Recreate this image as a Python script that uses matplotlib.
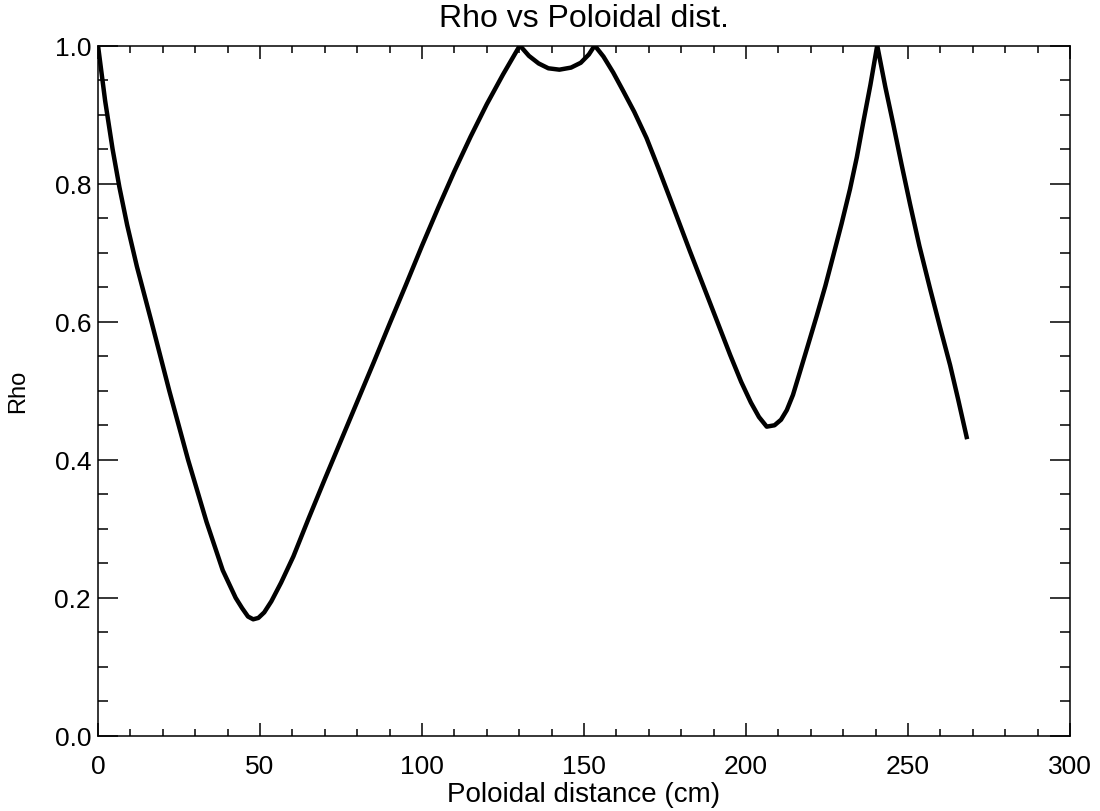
import matplotlib
matplotlib.use('Agg')
import matplotlib.pyplot as plt
from matplotlib.ticker import MultipleLocator

dist = [0.0, 2.2, 4.5, 6.6, 9.0, 12.0, 16.5, 22.0, 27.8, 33.5, 38.5, 42.5,
        44.5, 46.3, 47.9, 49.5, 51.3, 53.5, 56.5, 60.3, 65.0, 70.0, 75.0,
        80.0, 85.0, 90.0, 95.0, 100.0, 105.0, 110.0, 115.0, 120.0, 125.0,
        130.2, 133.0, 136.0, 139.0, 142.4, 146.0, 149.0, 151.5, 153.3, 156.0,
        159.0, 162.0, 165.5, 169.3, 173.0, 176.5, 182.7, 189.9, 195.1, 198.5,
        201.5, 204.0, 206.4, 208.8, 210.8, 212.6, 214.5, 216.5, 219.0, 221.8,
        224.5, 226.9, 229.5, 232.1, 234.2, 236.2, 238.4, 240.5, 243.0, 245.5,
        248.0, 250.6, 253.5, 256.8, 260.0, 263.0, 265.5, 268.1]
rho = [1.0, 0.92, 0.85, 0.795, 0.74, 0.68, 0.6, 0.5, 0.4, 0.31, 0.24, 0.2,
       0.185, 0.173, 0.169, 0.171, 0.179, 0.195, 0.222, 0.260, 0.315, 0.372,
       0.428, 0.484, 0.54, 0.597, 0.653, 0.71, 0.765, 0.818, 0.868, 0.915,
       0.958, 1.0, 0.985, 0.974, 0.967, 0.965, 0.968, 0.975, 0.987, 1.0,
       0.984, 0.961, 0.935, 0.904, 0.866, 0.822, 0.779, 0.702, 0.615, 0.552,
       0.513, 0.483, 0.462, 0.448, 0.450, 0.458, 0.472, 0.494, 0.525, 0.564,
       0.608, 0.652, 0.695, 0.742, 0.792, 0.838, 0.889, 0.943, 1.0, 0.94,
       0.885, 0.828, 0.771, 0.71, 0.648, 0.59, 0.537, 0.487, 0.433]

plt.rcParams['font.family'] = ['Liberation Sans', 'DejaVu Sans']

fig = plt.figure(figsize=(11, 8.12), dpi=100)
ax = fig.add_axes([98 / 1100, 75 / 812, 972 / 1100, 690.5 / 812])

ax.plot(dist, rho, color='black', lw=3.2, solid_joinstyle='round')

ax.set_xlim(0, 300)
ax.set_ylim(0, 1.0)
ax.xaxis.set_major_locator(MultipleLocator(50))
ax.xaxis.set_minor_locator(MultipleLocator(10))
ax.yaxis.set_major_locator(MultipleLocator(0.2))
ax.yaxis.set_minor_locator(MultipleLocator(0.05))
ax.yaxis.set_major_formatter(lambda v, p: f'{v:.1f}')

ax.tick_params(axis='both', which='both', direction='in', top=True, right=True,
               width=1.1, colors='black', labelsize=19)
ax.tick_params(axis='x', which='major', length=9.5, pad=13)
ax.tick_params(axis='x', which='minor', length=5)
ax.tick_params(axis='y', which='major', length=14.5, pad=5)
ax.tick_params(axis='y', which='minor', length=7.2)
for sp in ax.spines.values():
    sp.set_linewidth(1.1)

ax.set_title('Rho vs Poloidal dist.', fontsize=23, pad=14)
ax.set_xlabel('Poloidal distance (cm)', fontsize=20, labelpad=2)
ax.set_ylabel('Rho', fontsize=17, labelpad=18)

fig.savefig('out.png', dpi=100)
